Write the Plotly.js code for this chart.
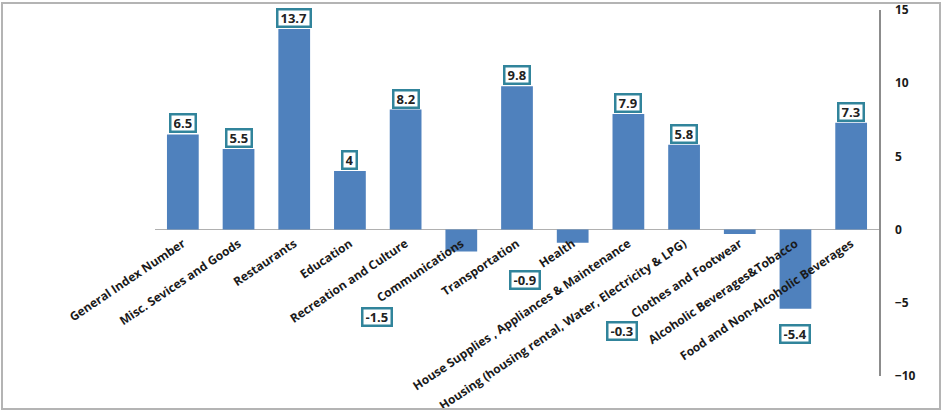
<!DOCTYPE html>
<html>
<head>
<meta charset="utf-8">
<script src="https://cdn.plot.ly/plotly-3.0.1.min.js"></script>
<style>
  html, body { margin: 0; padding: 0; background: #fff; }
  #wrap { position: relative; width: 945px; height: 413px; }
  #chart { width: 945px; height: 413px; }
  #frame { position: absolute; left: 1px; top: 2px; width: 940px; height: 408px;
           border: 2px solid #b4b4b4; box-sizing: border-box; pointer-events: none; }
</style>
</head>
<body>
<div id="wrap"><div id="chart"></div><div id="frame"></div></div>
<script>
// ---- data ----
const categories = [
  "General Index Number",
  "Misc. Sevices and Goods",
  "Restaurants",
  "Education",
  "Recreation and Culture",
  "Communications",
  "Transportation",
  "Health",
  "House Supplies , Appliances & Maintenance",
  "Housing (housing rental, Water, Electricity & LPG)",
  "Clothes and Footwear",
  "Alcoholic Beverages&Tobacco",
  "Food and Non-Alcoholic Beverages"
];
const values = [6.5, 5.5, 13.7, 4, 8.2, -1.5, 9.8, -0.9, 7.9, 5.8, -0.3, -5.4, 7.3];
const yTickValues = [-10, -5, 0, 5, 10, 15];

// ---- label placement (pixel offsets for the labels of negative bars) ----
const negLabelShift = {
  "Communications": [-84, -55],
  "Health": [-48, -27],
  "Clothes and Footwear": [-118, -87],
  "Alcoholic Beverages&Tobacco": [0, -15]
};

const barColor = "#4F81BD";
const boxColor = "#31849B";

const annotations = categories.map((c, i) => {
  const v = values[i];
  const a = {
    x: c, y: v, xref: "x", yref: "y",
    text: String(v),
    showarrow: false,
    font: { family: "Open Sans, sans-serif", size: 13, color: "#222", weight: "bold" },
    bgcolor: "#ffffff",
    bordercolor: boxColor,
    borderwidth: 2.5,
    borderpad: 2,
    height: 11,
    xanchor: "center"
  };
  if (v >= 0) {
    a.yanchor = "bottom";
    a.yshift = 1;
  } else {
    const s = negLabelShift[c] || [0, -10];
    a.yanchor = "top";
    a.xshift = s[0];
    a.yshift = s[1];
  }
  return a;
});

const trace = {
  type: "bar",
  x: categories,
  y: values,
  marker: { color: barColor, line: { width: 0 } },
  hoverinfo: "x+y"
};

const layout = {
  width: 945,
  height: 413,
  margin: { l: 155, r: 66, t: 10, b: 37, pad: 0 },
  paper_bgcolor: "#ffffff",
  plot_bgcolor: "#ffffff",
  showlegend: false,
  bargap: 0.43,
  xaxis: {
    type: "category",
    anchor: "free",
    position: 0.4,
    showline: false,
    showgrid: false,
    zeroline: false,
    ticks: "",
    tickangle: -34,
    ticklabelstandoff: 4,
    tickfont: { family: "Open Sans, sans-serif", size: 12, color: "#1a1a1a", weight: "bold" },
    automargin: false,
    range: [-0.5, 12.5]
  },
  yaxis: {
    side: "right",
    anchor: "x",
    range: [-10, 15],
    tickvals: yTickValues,
    showgrid: false,
    zeroline: true,
    zerolinecolor: "#b0b0b0",
    zerolinewidth: 1.5,
    showline: true,
    linecolor: "#8c8c8c",
    linewidth: 1.5,
    ticks: "",
    ticklabelstandoff: 12,
    tickfont: { family: "Open Sans, sans-serif", size: 12, color: "#1a1a1a", weight: "bold" },
    automargin: false
  },
  annotations: annotations
};

Plotly.newPlot("chart", [trace], layout, { displayModeBar: false, staticPlot: true });
</script>
</body>
</html>
